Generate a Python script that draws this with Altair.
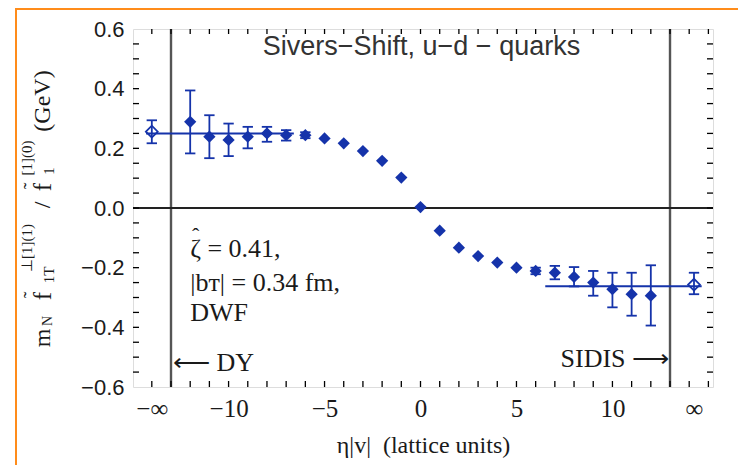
import altair as alt
import pandas as pd

# ---------------- data ----------------
eta = list(range(-12, 13))
value = [0.289, 0.239, 0.228, 0.239, 0.250, 0.244, 0.244, 0.233, 0.217, 0.191, 0.158, 0.102,
         0.003, -0.076, -0.133, -0.161, -0.183, -0.200, -0.211, -0.217, -0.231, -0.250,
         -0.272, -0.289, -0.294]
err_eta = [-12, -11, -10, -9, -8, -7, -6, 6, 7, 8, 9, 10, 11, 12]
err_hi = [0.394, 0.311, 0.283, 0.272, 0.272, 0.261, 0.254, -0.200, -0.194, -0.198, -0.211, -0.217, -0.217, -0.192]
err_lo = [0.183, 0.167, 0.174, 0.200, 0.222, 0.226, 0.234, -0.222, -0.239, -0.263, -0.294, -0.333, -0.361, -0.394]

inf_eta = [-14.0, 14.25]           # positions standing for -inf / +inf
inf_value = [0.256, -0.257]
inf_hi = [0.294, -0.217]
inf_lo = [0.217, -0.289]

fit_x1 = [-14.3, 6.5]
fit_x2 = [-6.6, 14.65]
fit_y = [0.250, -0.262]

vlines = [-13, 13]
x_tick_vals = [-14.0, -10, -5, 0, 5, 10, 14.25]
y_tick_vals = [-0.6, -0.4, -0.2, 0.0, 0.2, 0.4, 0.6]
x_minor = list(range(-14, 16))
y_minor = [round(-0.55 + 0.05 * i, 2) for i in range(23)]

XDOM = [-14.98, 15.24]
YDOM = [-0.6, 0.6]
W, H = 580, 358
BLUE = "#1533aa"
INK = "#1a1a1a"
SERIF = "Liberation Serif"
SANS = "Liberation Sans"

pts = pd.DataFrame({"eta": eta, "v": value})
errs = pd.DataFrame({"eta": err_eta, "hi": err_hi, "lo": err_lo})
infs = pd.DataFrame({"eta": inf_eta, "v": inf_value, "hi": inf_hi, "lo": inf_lo})
fits = pd.DataFrame({"x1": fit_x1, "x2": fit_x2, "y": fit_y})
allerr = pd.concat([errs, infs[["eta", "hi", "lo"]]], ignore_index=True)

xs = alt.Scale(domain=XDOM, nice=False, zero=False)
ys = alt.Scale(domain=YDOM, nice=False, zero=False)

x_axis = alt.Axis(
    values=x_tick_vals,
    labelExpr="datum.value < -13 ? '−∞' : datum.value > 13 ? '∞' : (datum.value < 0 ? '−' + abs(datum.value) : '' + datum.value)",
    tickSize=0, domain=False, grid=False, labelFont=SERIF, labelFontSize=25,
    labelColor=INK, labelPadding=9, labelBaseline="top",
    title="η|v|\u00a0\u00a0(lattice units)", titleFont=SERIF, titleFontSize=24, titleFontWeight="normal",
    titleColor=INK, titlePadding=12,
)
y_axis = alt.Axis(
    values=y_tick_vals,
    labelExpr="datum.value < 0 ? '−' + format(abs(datum.value), '.1f') : format(datum.value, '.1f')",
    tickSize=0, domain=False, grid=False, labelFont=SANS, labelFontSize=22,
    labelColor=INK, labelPadding=9, title=None,
)

base_axes = alt.Chart(pd.DataFrame({"x": [0.0], "y": [0.0]})).mark_point(opacity=0).encode(
    x=alt.X("x:Q", scale=xs, axis=x_axis),
    y=alt.Y("y:Q", scale=ys, axis=y_axis),
)

# inward frame ticks
xt = pd.DataFrame({"t": x_minor})
yt = pd.DataFrame({"t": y_minor})
tick_style = dict(color="black", strokeWidth=1.3)
xbot = alt.Chart(xt).mark_rule(**tick_style).encode(
    x=alt.X("t:Q", scale=xs), y=alt.value(H), y2=alt.value(H - 6))
xtop = alt.Chart(xt).mark_rule(**tick_style).encode(
    x=alt.X("t:Q", scale=xs), y=alt.value(0), y2=alt.value(5))
yleft = alt.Chart(yt).mark_rule(**tick_style).encode(
    y=alt.Y("t:Q", scale=ys), x=alt.value(0), x2=alt.value(6))
yright = alt.Chart(yt).mark_rule(**tick_style).encode(
    y=alt.Y("t:Q", scale=ys), x=alt.value(W), x2=alt.value(W - 6))

vl = alt.Chart(pd.DataFrame({"x": vlines})).mark_rule(color="#555", strokeWidth=2.4).encode(
    x=alt.X("x:Q", scale=xs))
hl = alt.Chart(pd.DataFrame({"y": [0.0]})).mark_rule(color="#222", strokeWidth=2).encode(
    y=alt.Y("y:Q", scale=ys))

fit_lines = alt.Chart(fits).mark_rule(color=BLUE, strokeWidth=2).encode(
    x=alt.X("x1:Q", scale=xs), x2="x2:Q", y=alt.Y("y:Q", scale=ys))

ebar = alt.Chart(allerr).mark_rule(color=BLUE, strokeWidth=1.8).encode(
    x=alt.X("eta:Q", scale=xs), y=alt.Y("lo:Q", scale=ys), y2="hi:Q")
caps_base = alt.Chart(allerr).transform_calculate(a="datum.eta - 0.27", b="datum.eta + 0.27")
cap_hi = caps_base.mark_rule(color=BLUE, strokeWidth=1.8).encode(
    x=alt.X("a:Q", scale=xs), x2="b:Q", y=alt.Y("hi:Q", scale=ys))
cap_lo = caps_base.mark_rule(color=BLUE, strokeWidth=1.8).encode(
    x=alt.X("a:Q", scale=xs), x2="b:Q", y=alt.Y("lo:Q", scale=ys))

dots = alt.Chart(pts).mark_point(shape="diamond", filled=True, color=BLUE, size=150, opacity=1).encode(
    x=alt.X("eta:Q", scale=xs), y=alt.Y("v:Q", scale=ys))
open_d = alt.Chart(infs).mark_point(shape="diamond", filled=False, color=BLUE, size=140,
                                    strokeWidth=1.8, opacity=1).encode(
    x=alt.X("eta:Q", scale=xs), y=alt.Y("v:Q", scale=ys))

# annotations
ann = pd.DataFrame({"x": [0.05], "y": [0.54], "t": ["Sivers−Shift, u−d − quarks"]})
title_txt = alt.Chart(ann).mark_text(font=SANS, fontSize=27, color="#333", align="center",
                                     baseline="middle").encode(
    x=alt.X("x:Q", scale=xs), y=alt.Y("y:Q", scale=ys), text="t:N")

notes = pd.DataFrame({
    "x": [-12.0, -12.0, -12.0],
    "y": [-0.138, -0.251, -0.352],
    "t": ["ζ = 0.41,", "|bᴛ| = 0.34 fm,", "DWF"],
})
notes_txt = alt.Chart(notes).mark_text(font=SERIF, fontSize=26, color=INK, align="left",
                                       baseline="middle").encode(
    x=alt.X("x:Q", scale=xs), y=alt.Y("y:Q", scale=ys), text="t:N")
hat = pd.DataFrame({"x": [-11.72], "y": [-0.095], "t": ["ˆ"]})
hat_txt = alt.Chart(hat).mark_text(font=SERIF, fontSize=22, color=INK, align="center",
                                   baseline="middle").encode(
    x=alt.X("x:Q", scale=xs), y=alt.Y("y:Q", scale=ys), text="t:N")

dy = pd.DataFrame({"x": [-12.9], "y": [-0.519], "t": ["⟵ DY"]})
dy_txt = alt.Chart(dy).mark_text(font=SERIF, fontSize=26, color=INK, align="left",
                                 baseline="middle").encode(
    x=alt.X("x:Q", scale=xs), y=alt.Y("y:Q", scale=ys), text="t:N")
sid = pd.DataFrame({"x": [12.95], "y": [-0.505], "t": ["SIDIS ⟶"]})
sid_txt = alt.Chart(sid).mark_text(font=SERIF, fontSize=26, color=INK, align="right",
                                   baseline="middle").encode(
    x=alt.X("x:Q", scale=xs), y=alt.Y("y:Q", scale=ys), text="t:N")

# y-axis title assembled from pieces (rotated, reading upward)
ytitle = pd.DataFrame({
    "t": ["m", "N", "f", "˜", "1T", "⊥[1](1)", "/", "f", "˜", "1", "[1](0)", "(GeV)"],
    "px": [-90, -85, -90, -101, -84, -106, -90, -90, -101, -84, -106, -90],
    "py": [309, 292, 267, 266, 246, 219, 176, 158, 157, 142, 129, 72],
    "fs": [24, 14, 25, 20, 15, 15, 24, 25, 20, 15, 15, 24],
})
ytitle_txt = alt.Chart(ytitle).mark_text(font=SERIF, color=INK, angle=270, align="center",
                                         baseline="middle").encode(
    x=alt.X("px:Q", scale=None), y=alt.Y("py:Q", scale=None), text="t:N",
    size=alt.Size("fs:Q", scale=None, legend=None))

# orange frame of the figure
orange_v = alt.Chart(pd.DataFrame({"a": [0]})).mark_rule(color="#ff8c1a", strokeWidth=2).encode(
    x=alt.value(-117), y=alt.value(-20), y2=alt.value(H + 78))
orange_h = alt.Chart(pd.DataFrame({"a": [0]})).mark_rule(color="#ff8c1a", strokeWidth=2).encode(
    x=alt.value(-118), x2=alt.value(W + 25), y=alt.value(-20))

chart = alt.layer(
    base_axes, vl, hl, xbot, xtop, yleft, yright, fit_lines, ebar, cap_hi, cap_lo,
    dots, open_d, title_txt, notes_txt, hat_txt, dy_txt, sid_txt, ytitle_txt, orange_v, orange_h,
).properties(
    width=W, height=H,
    autosize=alt.AutoSizeParams(type="none"),
    padding={"left": 125, "top": 21, "right": 25, "bottom": 78},
).configure_view(stroke="black", strokeWidth=1.8).configure(background="white")

chart.save("out.html", embed_options={"renderer": "svg", "actions": False})
